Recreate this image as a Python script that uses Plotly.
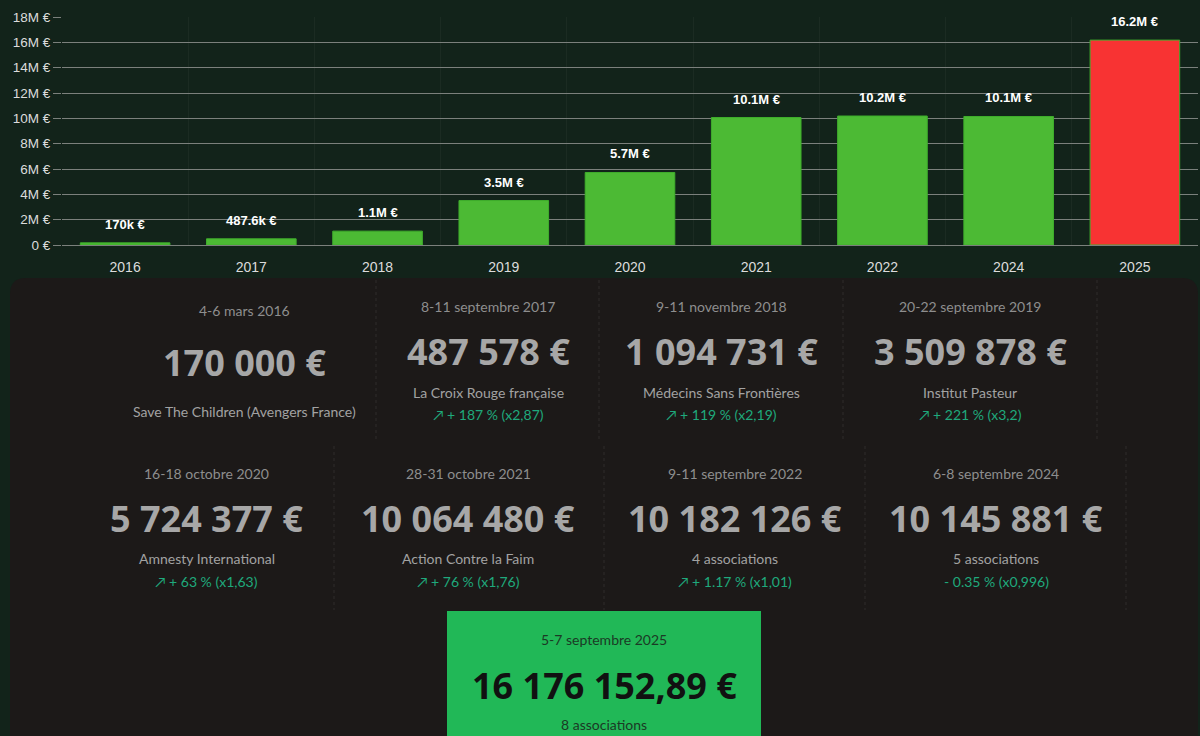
import plotly.graph_objects as go

# ---------------- data ----------------
years = ["2016", "2017", "2018", "2019", "2020", "2021", "2022", "2024", "2025"]
totals = [170000, 487578, 1094731, 3509878, 5724377, 10064480, 10182126, 10145881, 16176152.89]
bar_labels = ["170k €", "487.6k €", "1.1M €", "3.5M €", "5.7M €", "10.1M €", "10.2M €", "10.1M €", "16.2M €"]
y_tick_vals = [0, 2e6, 4e6, 6e6, 8e6, 10e6, 12e6, 14e6, 16e6, 18e6]
y_tick_text = ["0 €", "2M €", "4M €", "6M €", "8M €", "10M €", "12M €", "14M €", "16M €", "18M €"]

event_dates = ["4-6 mars 2016", "8-11 septembre 2017", "9-11 novembre 2018", "20-22 septembre 2019",
               "16-18 octobre 2020", "28-31 octobre 2021", "9-11 septembre 2022", "6-8 septembre 2024",
               "5-7 septembre 2025"]
amount_texts = ["170 000 €", "487 578 €", "1 094 731 €", "3 509 878 €", "5 724 377 €",
                "10 064 480 €", "10 182 126 €", "10 145 881 €", "16 176 152,89 €"]
beneficiaries = ["Save The Children (Avengers France)", "La Croix Rouge française", "Médecins Sans Frontières",
                 "Institut Pasteur", "Amnesty International", "Action Contre la Faim", "4 associations",
                 "5 associations", "8 associations"]
changes = [None, "↗ + 187 % (x2,87)", "↗ + 119 % (x2,19)", "↗ + 221 % (x3,2)", "↗ + 63 % (x1,63)",
           "↗ + 76 % (x1,76)", "↗ + 1.17 % (x1,01)", "- 0.35 % (x0,996)", None]

# ---------------- layout helpers ----------------
W, H = 1200, 736
def px(x):
    return x / W
def py(y):
    return 1 - y / H

BG = "#12231a"
PANEL = "#1c1918"
GREEN = "#4cba34"
RED = "#f83333"
GRID = "#7b807c"
TXT = "#dcdcdc"

bar_colors = [RED if i == len(years) - 1 else GREEN for i in range(len(years))]

fig = go.Figure()
fig.add_trace(go.Bar(
    x=years, y=totals,
    marker=dict(color=bar_colors, line=dict(color="#3fae2c", width=1)),
    width=0.71, hoverinfo="skip",
))

annotations = []
for i, (v, lab) in enumerate(zip(totals, bar_labels)):
    annotations.append(dict(x=i, y=v, xref="x", yref="y", text=f"<b>{lab}</b>", showarrow=False,
                            yanchor="bottom", yshift=9,
                            font=dict(family="Liberation Sans, Arial", size=13, color="#ffffff")))

# ---------------- card panel ----------------
shapes = []
r = 16
x0, x1, y0 = 10, 1198, 278
path = (f"M {px(x0)},{py(y0 + r)} Q {px(x0)},{py(y0)} {px(x0 + r)},{py(y0)} "
        f"L {px(x1 - r)},{py(y0)} Q {px(x1)},{py(y0)} {px(x1)},{py(y0 + r)} "
        f"L {px(x1)},{py(H)} L {px(x0)},{py(H)} Z")
shapes.append(dict(type="path", path=path, xref="paper", yref="paper",
                   fillcolor=PANEL, line=dict(width=0), layer="below"))

# separators
sep_style = dict(color="rgba(255,255,255,0.09)", width=1, dash="dot")
for sx in [376, 599, 843, 1097]:
    shapes.append(dict(type="line", xref="paper", yref="paper", x0=px(sx), x1=px(sx),
                       y0=py(280), y1=py(442), line=sep_style))
for sx in [334, 604, 865, 1126]:
    shapes.append(dict(type="line", xref="paper", yref="paper", x0=px(sx), x1=px(sx),
                       y0=py(446), y1=py(610), line=sep_style))

# highlighted card
shapes.append(dict(type="rect", xref="paper", yref="paper", x0=px(447), x1=px(761),
                   y0=py(611), y1=py(H), fillcolor="#21b857", line=dict(width=0)))

card_layout = [
    (244, 310, 363, 411, None),
    (488, 306, 351, 392, 414),
    (721, 306, 351, 392, 414),
    (970, 306, 351, 392, 414),
    (207, 473, 518, 558, 581),
    (468, 473, 518, 558, 581),
    (735, 473, 518, 558, 581),
    (996, 473, 518, 558, 581),
    (604, 639, 685, 724, None),
]

SMALL_FONT = "Lato, Noto Sans, sans-serif"
BIG_FONT = "Noto Sans, Open Sans, sans-serif"
for i, (cx, yd, ya, yn, yc) in enumerate(card_layout):
    hl = i == len(card_layout) - 1
    c_small = "#1b3a25" if hl else "#8e8e8e"
    c_name = "#1b3a25" if hl else "#a2a2a2"
    c_amt = "#111111" if hl else "#a7a7a7"
    annotations.append(dict(x=px(cx), y=py(yd), xref="paper", yref="paper", text=event_dates[i],
                            showarrow=False, xanchor="center", yanchor="middle",
                            font=dict(family=SMALL_FONT, size=14, color=c_small)))
    annotations.append(dict(x=px(cx), y=py(ya), xref="paper", yref="paper", text=f"<b>{amount_texts[i]}</b>",
                            showarrow=False, xanchor="center", yanchor="middle",
                            font=dict(family=BIG_FONT, size=36, color=c_amt)))
    annotations.append(dict(x=px(cx), y=py(yn), xref="paper", yref="paper", text=beneficiaries[i],
                            showarrow=False, xanchor="center", yanchor="middle",
                            font=dict(family=SMALL_FONT, size=14, color=c_name)))
    if yc is not None and changes[i]:
        annotations.append(dict(x=px(cx), y=py(yc), xref="paper", yref="paper", text=changes[i],
                                showarrow=False, xanchor="center", yanchor="middle",
                                font=dict(family=SMALL_FONT, size=14, color="#1fa97c")))

fig.update_layout(
    width=W, height=H,
    margin=dict(l=0, r=0, t=0, b=0),
    paper_bgcolor=BG, plot_bgcolor=BG,
    showlegend=False,
    bargap=0.29,
    xaxis=dict(domain=[px(62), px(1198)], type="category", automargin=False,
               categoryorder="array", categoryarray=years, range=[-0.5, len(years) - 0.5],
               tickson="boundaries", showgrid=True, gridcolor="rgba(255,255,255,0.04)", gridwidth=1,
               ticks="", ticklabelstandoff=12, tickangle=0,
               tickfont=dict(family="Liberation Sans, Arial", size=14, color=TXT),
               showline=False, zeroline=False, fixedrange=True),
    yaxis=dict(domain=[py(245), py(17)], range=[0, 18e6], automargin=False,
               tickvals=y_tick_vals, ticktext=y_tick_text,
               showgrid=True, gridcolor=GRID, gridwidth=1,
               zeroline=True, zerolinecolor=GRID, zerolinewidth=1,
               ticks="outside", ticklen=8, tickcolor=GRID,
               tickfont=dict(family="Liberation Sans, Arial", size=13.5, color=TXT),
               fixedrange=True),
    shapes=shapes,
    annotations=annotations,
)

fig.write_html("out.html")
